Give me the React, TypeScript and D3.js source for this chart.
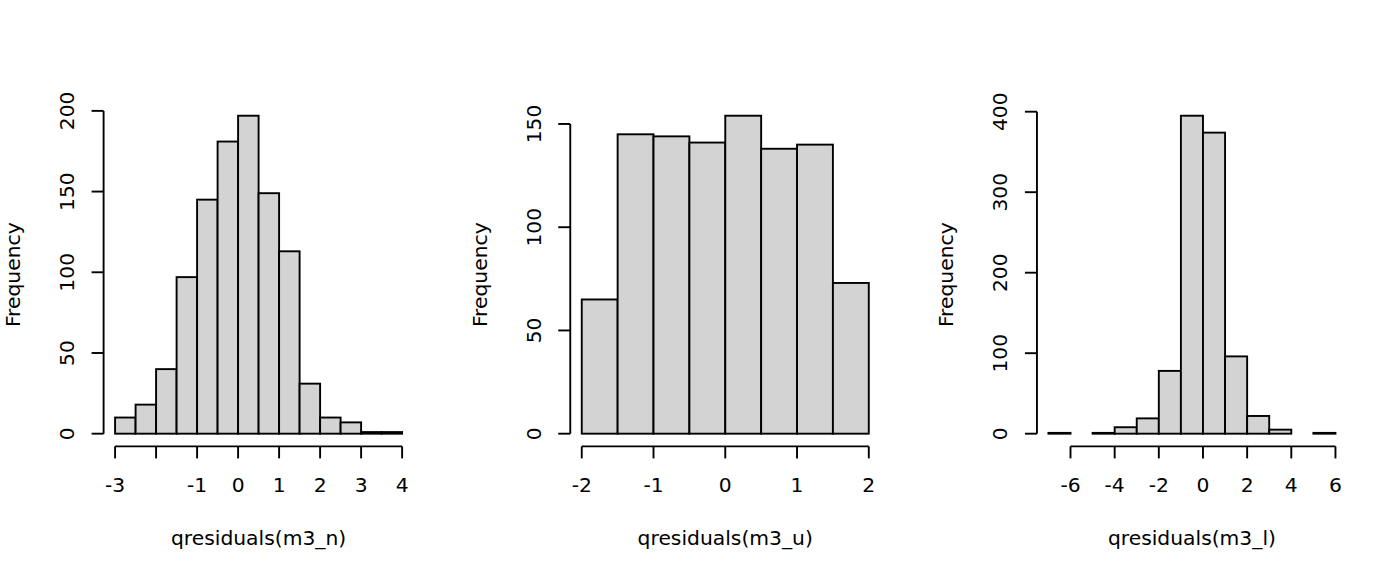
import React from "react";
import * as d3 from "d3";

// Panel 1: qresiduals(m3_n)
const breaksN = [-3, -2.5, -2, -1.5, -1, -0.5, 0, 0.5, 1, 1.5, 2, 2.5, 3, 3.5, 4];
const countsN = [10, 18, 40, 97, 145, 181, 197, 149, 113, 31, 10, 7, 1, 1];
const xTicksN = [-3, -2, -1, 0, 1, 2, 3, 4];
const xTickLabelsN = ["-3", "", "-1", "0", "1", "2", "3", "4"];
const yTicksN = [0, 50, 100, 150, 200];

// Panel 2: qresiduals(m3_u)
const breaksU = [-2, -1.5, -1, -0.5, 0, 0.5, 1, 1.5, 2];
const countsU = [65, 145, 144, 141, 154, 138, 140, 73];
const xTicksU = [-2, -1, 0, 1, 2];
const xTickLabelsU = ["-2", "-1", "0", "1", "2"];
const yTicksU = [0, 50, 100, 150];

// Panel 3: qresiduals(m3_l)
const breaksL = [-7, -6, -5, -4, -3, -2, -1, 0, 1, 2, 3, 4, 5, 6];
const countsL = [1, 0, 1, 8, 19, 78, 395, 374, 96, 22, 5, 0, 1];
const xTicksL = [-6, -4, -2, 0, 2, 4, 6];
const xTickLabelsL = ["-6", "-4", "-2", "0", "2", "4", "6"];
const yTicksL = [0, 100, 200, 300, 400];

const xLabels = ["qresiduals(m3_n)", "qresiduals(m3_u)", "qresiduals(m3_l)"];

const panels = [
  { breaks: breaksN, counts: countsN, xTicks: xTicksN, xTickLabels: xTickLabelsN, yTicks: yTicksN, xLabel: xLabels[0] },
  { breaks: breaksU, counts: countsU, xTicks: xTicksU, xTickLabels: xTickLabelsU, yTicks: yTicksU, xLabel: xLabels[1] },
  { breaks: breaksL, counts: countsL, xTicks: xTicksL, xTickLabels: xTickLabelsL, yTicks: yTicksL, xLabel: xLabels[2] },
];

const W = 1400;
const H = 576;
const FONT = "'DejaVu Sans', sans-serif";
const FS = 20.3;
const regionTop = 103;
const regionBottom = 446.4;
const regionWidth = 310;
const firstLeft = 103.6;
const panelStep = 466.67;
const tick = 12;
const SW = 1.9;

function Panel({ p, i }: { p: (typeof panels)[number]; i: number }) {
  const left = firstLeft + i * panelStep;
  const right = left + regionWidth;
  const x0 = p.breaks[0];
  const x1 = p.breaks[p.breaks.length - 1];
  const xr = x1 - x0;
  const x = d3.scaleLinear().domain([x0 - 0.04 * xr, x1 + 0.04 * xr]).range([left, right]);
  const ymax = d3.max(p.counts) as number;
  const y = d3.scaleLinear().domain([-0.04 * ymax, ymax * 1.04]).range([regionBottom, regionTop]);
  const cx = (left + right) / 2;
  const cy = (regionTop + regionBottom) / 2;
  const yt0 = p.yTicks[0];
  const yt1 = p.yTicks[p.yTicks.length - 1];
  const xt0 = p.xTicks[0];
  const xt1 = p.xTicks[p.xTicks.length - 1];
  return (
    <g>
      {p.counts.map((c, k) =>
        c > 0 ? (
          <rect
            key={k}
            x={x(p.breaks[k])}
            y={y(c)}
            width={x(p.breaks[k + 1]) - x(p.breaks[k])}
            height={y(0) - y(c)}
            fill="#d3d3d3"
            stroke="#000"
            strokeWidth={SW}
          />
        ) : null
      )}
      {/* y axis */}
      <line x1={left} x2={left} y1={y(yt0)} y2={y(yt1)} stroke="#000" strokeWidth={SW} />
      {p.yTicks.map((t) => (
        <g key={t}>
          <line x1={left - tick} x2={left} y1={y(t)} y2={y(t)} stroke="#000" strokeWidth={SW} />
          <text
            transform={`translate(${left - 29.5},${y(t)}) rotate(-90)`}
            textAnchor="middle"
            fontFamily={FONT}
            fontSize={FS}
          >
            {t}
          </text>
        </g>
      ))}
      {/* x axis */}
      <line x1={x(xt0)} x2={x(xt1)} y1={regionBottom} y2={regionBottom} stroke="#000" strokeWidth={SW} />
      {p.xTicks.map((t, k) => (
        <g key={t}>
          <line x1={x(t)} x2={x(t)} y1={regionBottom} y2={regionBottom + tick} stroke="#000" strokeWidth={SW} />
          <text x={x(t)} y={491.5} textAnchor="middle" fontFamily={FONT} fontSize={FS}>
            {p.xTickLabels[k]}
          </text>
        </g>
      ))}
      <text x={cx} y={545} textAnchor="middle" fontFamily={FONT} fontSize={FS}>
        {p.xLabel}
      </text>
      <text
        transform={`translate(${left - 83.5},${cy}) rotate(-90)`}
        textAnchor="middle"
        fontFamily={FONT}
        fontSize={FS}
      >
        Frequency
      </text>
    </g>
  );
}

export default function App() {
  return (
    <svg width={W} height={H} viewBox={`0 0 ${W} ${H}`} style={{ display: "block", position: "absolute", left: 0, top: 0, background: "#fff" }}>
      <rect x={0} y={0} width={W} height={H} fill="#fff" />
      {panels.map((p, i) => (
        <Panel key={i} p={p} i={i} />
      ))}
    </svg>
  );
}
